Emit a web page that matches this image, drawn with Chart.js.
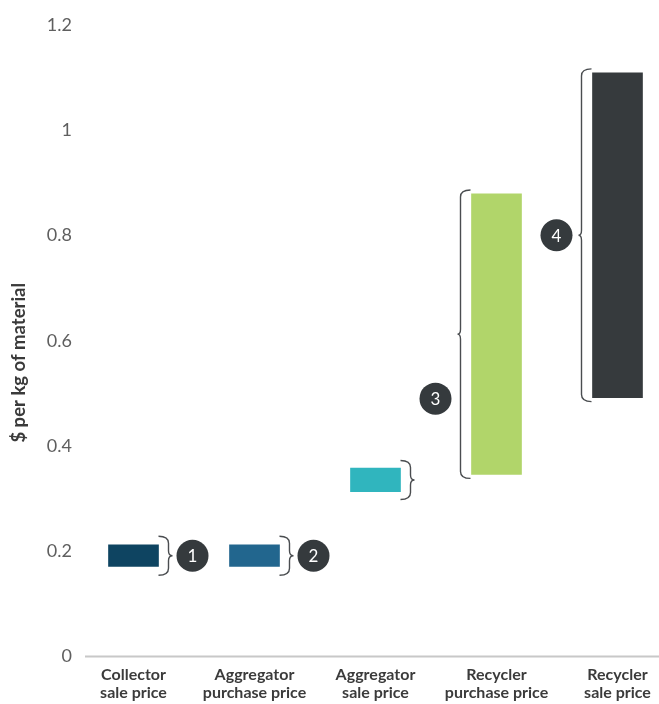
<!DOCTYPE html>
<html><head><meta charset="utf-8">
<script src="https://cdn.jsdelivr.net/npm/chart.js@4.4.0/dist/chart.umd.min.js"></script>
<style>
html,body{margin:0;padding:0;background:#fff;overflow:hidden;}
#wrap{width:659px;height:704px;overflow:hidden;position:relative;}
#box{width:683px;height:704px;position:absolute;left:0;top:0;}
</style></head><body>
<div id="wrap"><div id="box"><canvas id="c"></canvas></div></div>
<script>
const categories = [["Collector","sale price"],["Aggregator","purchase price"],["Aggregator","sale price"],["Recycler","purchase price"],["Recycler","sale price"]];
const lowValues  = [0.171, 0.171, 0.313, 0.346, 0.492];
const highValues = [0.212, 0.212, 0.358, 0.879, 1.109];
const barColors  = ['#0e4461','#22668e','#30b5be','#b1d56a','#363a3d'];
const yTicks = [0, 0.2, 0.4, 0.6, 0.8, 1, 1.2];
const yTitle = '$ per kg of material';
const markerLabels = ['1','2','','3','4'];
const braceSides   = ['right','right','right','left','left'];
const markerValues = [null, null, null, 0.49, null];

const ranges = lowValues.map((v,i)=>[v, highValues[i]]);

const overlay = {
  id:'overlay',
  afterDatasetsDraw(chart){
    const ctx = chart.ctx, ys = chart.scales.y, ca = chart.chartArea;
    ctx.save();
    const y0 = ys.getPixelForValue(0);
    ctx.strokeStyle = '#c8c8c8'; ctx.lineWidth = 2;
    ctx.beginPath(); ctx.moveTo(ca.left+12, y0); ctx.lineTo(chart.width, y0); ctx.stroke();
    const meta = chart.getDatasetMeta(0);
    meta.data.forEach((bar, i)=>{
      const p = bar.getProps(['x','y','base','width'], true);
      const top = Math.min(p.y, p.base), bot = Math.max(p.y, p.base);
      const mid = (top+bot)/2;
      const half = Math.max((bot-top)/2 + 4, 19.5);
      const yT = mid - half, yB = mid + half;
      const dir = braceSides[i]==='right' ? 1 : -1;
      const xE = dir===1 ? p.x + p.width/2 : p.x - p.width/2 - 1;
      const xV = xE + dir*10, xTip = xE + dir*(dir===1?14:13);
      ctx.strokeStyle = '#4a4d50'; ctx.lineWidth = 1.4;
      ctx.beginPath();
      ctx.moveTo(xE, yT);
      ctx.quadraticCurveTo(xV, yT, xV, yT+7);
      ctx.lineTo(xV, mid-5);
      ctx.quadraticCurveTo(xV, mid, xTip, mid);
      ctx.quadraticCurveTo(xV, mid, xV, mid+5);
      ctx.lineTo(xV, yB-7);
      ctx.quadraticCurveTo(xV, yB, xE, yB);
      ctx.stroke();
      if (markerLabels[i]) {
        const cx = dir===1 ? p.x + p.width/2 + 34 : p.x - p.width/2 - 36;
        const cy = markerValues[i]!=null ? ys.getPixelForValue(markerValues[i]) : mid;
        ctx.fillStyle = '#353a3d';
        ctx.beginPath(); ctx.arc(cx, cy, 16, 0, Math.PI*2); ctx.fill();
        ctx.fillStyle = '#ffffff';
        ctx.font = '17px Lato';
        ctx.textAlign = 'center'; ctx.textBaseline = 'middle';
        ctx.fillText(markerLabels[i], cx, cy+1);
      }
    });
    ctx.translate(19, (ca.top+ca.bottom)/2 + 22);
    ctx.rotate(-Math.PI/2);
    ctx.fillStyle = '#3a3a3a';
    ctx.font = 'bold 18.5px Lato';
    ctx.textAlign = 'center'; ctx.textBaseline = 'middle';
    ctx.fillText(yTitle, 0, 0);
    ctx.restore();
  }
};

new Chart(document.getElementById('c'), {
  type:'bar',
  data:{
    labels: categories,
    datasets:[{
      data: ranges,
      backgroundColor: barColors,
      borderWidth: 0,
      borderSkipped: false,
      barThickness: 50
    }]
  },
  options:{
    responsive:true,
    maintainAspectRatio:false,
    animation:false,
    devicePixelRatio:1,
    layout:{padding:{top:25,right:5,left:0,bottom:0}},
    plugins:{legend:{display:false}, tooltip:{enabled:false}},
    scales:{
      x:{
        grid:{display:false, drawTicks:false},
        border:{display:false},
        ticks:{
          padding:9,
          color:'#3b3b3b',
          font:{family:'Lato', size:16, weight:'bold', lineHeight:1.15},
          maxRotation:0, autoSkip:false
        },
        afterFit(s){ s.height = 47.5; }
      },
      y:{
        min:0, max:1.2,
        grid:{display:false, drawTicks:false},
        border:{display:false},
        afterBuildTicks(s){ s.ticks = yTicks.map(v=>({value:v})); },
        ticks:{
          padding:1,
          color:'#5f5f5f',
          font:{family:'Lato', size:18},
          callback:(v)=>String(v)
        },
        afterFit(s){ s.width = 73; }
      }
    }
  },
  plugins:[overlay]
});
</script>
</body></html>
